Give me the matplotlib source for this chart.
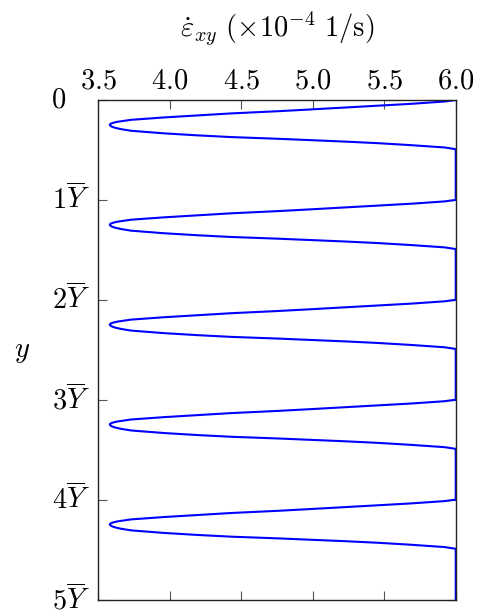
import matplotlib
matplotlib.use("Agg")
import matplotlib.pyplot as plt
import matplotlib.transforms as mtransforms

plt.rcParams['mathtext.fontset'] = 'cm'
plt.rcParams['font.family'] = 'DejaVu Serif'

# y-Position in Einheiten von Y-quer (5 Einbrüche)
y_pos = [
    0.000, 0.015, 0.038, 0.057, 0.076, 0.094, 0.112, 0.134, 0.154, 0.174, 0.198, 0.218, 0.228, 0.238, 0.248,
    0.258, 0.268, 0.278, 0.291, 0.308, 0.334, 0.354, 0.371, 0.388, 0.402, 0.416, 0.432, 0.452, 0.475, 0.492,
    1.000, 1.015, 1.038, 1.057, 1.076, 1.094, 1.112, 1.134, 1.154, 1.174, 1.198, 1.218, 1.228, 1.238, 1.248,
    1.258, 1.268, 1.278, 1.291, 1.308, 1.334, 1.354, 1.371, 1.388, 1.402, 1.416, 1.432, 1.452, 1.475, 1.492,
    2.000, 2.015, 2.038, 2.057, 2.076, 2.094, 2.112, 2.134, 2.154, 2.174, 2.198, 2.218, 2.228, 2.238, 2.248,
    2.258, 2.268, 2.278, 2.291, 2.308, 2.334, 2.354, 2.371, 2.388, 2.402, 2.416, 2.432, 2.452, 2.475, 2.492,
    3.000, 3.015, 3.038, 3.057, 3.076, 3.094, 3.112, 3.134, 3.154, 3.174, 3.198, 3.218, 3.228, 3.238, 3.248,
    3.258, 3.268, 3.278, 3.291, 3.308, 3.334, 3.354, 3.371, 3.388, 3.402, 3.416, 3.432, 3.452, 3.475, 3.492,
    4.000, 4.015, 4.038, 4.057, 4.076, 4.094, 4.112, 4.134, 4.154, 4.174, 4.198, 4.218, 4.228, 4.238, 4.248,
    4.258, 4.268, 4.278, 4.291, 4.308, 4.334, 4.354, 4.371, 4.388, 4.402, 4.416, 4.432, 4.452, 4.475, 4.492,
    5.000,
]

# Scherrate (x 1e-4 1/s)
strain_rate = [
    6.000, 5.922, 5.689, 5.456, 5.223, 4.990, 4.757, 4.430, 4.197, 3.964, 3.730, 3.634, 3.604, 3.586, 3.580,
    3.585, 3.597, 3.618, 3.657, 3.730, 3.964, 4.197, 4.430, 4.757, 4.990, 5.223, 5.456, 5.689, 5.922, 6.000,
    6.000, 5.922, 5.689, 5.456, 5.223, 4.990, 4.757, 4.430, 4.197, 3.964, 3.730, 3.634, 3.604, 3.586, 3.580,
    3.585, 3.597, 3.618, 3.657, 3.730, 3.964, 4.197, 4.430, 4.757, 4.990, 5.223, 5.456, 5.689, 5.922, 6.000,
    6.000, 5.922, 5.689, 5.456, 5.223, 4.990, 4.757, 4.430, 4.197, 3.964, 3.730, 3.634, 3.604, 3.586, 3.580,
    3.585, 3.597, 3.618, 3.657, 3.730, 3.964, 4.197, 4.430, 4.757, 4.990, 5.223, 5.456, 5.689, 5.922, 6.000,
    6.000, 5.922, 5.689, 5.456, 5.223, 4.990, 4.757, 4.430, 4.197, 3.964, 3.730, 3.634, 3.604, 3.586, 3.580,
    3.585, 3.597, 3.618, 3.657, 3.730, 3.964, 4.197, 4.430, 4.757, 4.990, 5.223, 5.456, 5.689, 5.922, 6.000,
    6.000, 5.922, 5.689, 5.456, 5.223, 4.990, 4.757, 4.430, 4.197, 3.964, 3.730, 3.634, 3.604, 3.586, 3.580,
    3.585, 3.597, 3.618, 3.657, 3.730, 3.964, 4.197, 4.430, 4.757, 4.990, 5.223, 5.456, 5.689, 5.922, 6.000,
    6.000,
]

x_ticks = [3.5, 4.0, 4.5, 5.0, 5.5, 6.0]
x_tick_labels = [r'$3.5$', r'$4.0$', r'$4.5$', r'$5.0$', r'$5.5$', r'$6.0$']
y_ticks = [0, 1, 2, 3, 4, 5]
y_tick_labels = [r'$0$', r'$1\overline{Y}$', r'$2\overline{Y}$', r'$3\overline{Y}$',
                 r'$4\overline{Y}$', r'$5\overline{Y}$']

fig = plt.figure(figsize=(4.79, 6.14), dpi=100)
ax = fig.add_axes([0.2052, 0.0236, 0.7462, 0.8135])

ax.plot(strain_rate, y_pos, color=(0, 0, 1), linewidth=1.5, solid_joinstyle='round')

ax.set_xlim(3.5, 6.0)
ax.set_ylim(5, 0)

ax.xaxis.set_ticks_position('both')
ax.yaxis.set_ticks_position('both')
ax.tick_params(axis='both', direction='in', length=6.5, width=0.8, color='#555555',
               labelsize=20.5, top=True, bottom=True, left=True, right=True,
               labeltop=True, labelbottom=False, labelleft=True, labelright=False)
ax.tick_params(axis='x', pad=4)
ax.tick_params(axis='y', pad=6)

ax.set_xticks(x_ticks)
ax.set_xticklabels(x_tick_labels)
ax.set_yticks(y_ticks)
ax.set_yticklabels(y_tick_labels)

# Beschriftungen leicht nach oben, "0" weiter links als die anderen
for i, lbl in enumerate(ax.get_yticklabels()):
    dx = -24 / 100 if i == 0 else 0
    lbl.set_transform(lbl.get_transform() +
                      mtransforms.ScaledTranslation(dx, 3 / 100, fig.dpi_scale_trans))

for sp in ax.spines.values():
    sp.set_linewidth(1.0)
    sp.set_color('#222222')

fig.text(0.578, 0.952, r'$\dot{\varepsilon}_{xy}\ (\times 10^{-4}\ 1/\mathrm{s})$',
         fontsize=20.5, ha='center', va='center')
fig.text(0.045, 0.428, r'$y$', fontsize=20.5, ha='center', va='center')

fig.savefig('out.png', dpi=100)
